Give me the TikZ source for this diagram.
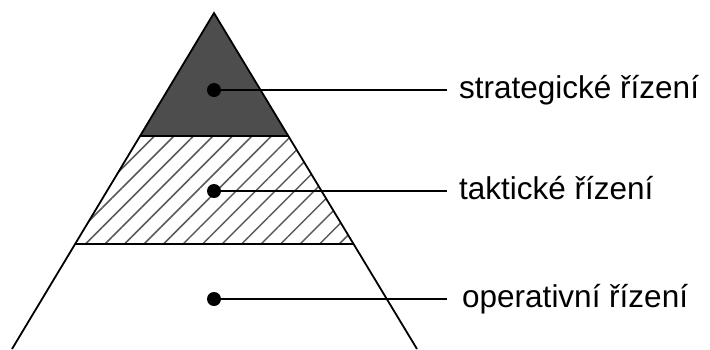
\documentclass[tikz,border=0pt]{standalone}
\usepackage{fontspec}
\setmainfont{Liberation Sans}
\usetikzlibrary{patterns.meta}
\definecolor{darkfill}{HTML}{4D4D4D}
\tikzset{
  edge/.style={line width=1.8pt, black, line join=miter},
  dot/.style={circle, fill=black, inner sep=0pt, minimum size=14pt},
  lead/.style={line width=1.8pt, black},
  lbl/.style={anchor=base west, inner sep=0pt, font=\fontsize{31.5}{36}\selectfont},
  hatch/.style={pattern={Lines[angle=45,distance=13.8pt,line width=1.5pt]}, pattern color=black!65}
}
\begin{document}
\begin{tikzpicture}[x=1pt,y=-1pt]
\useasboundingbox (0,0) rectangle (710,349);
\coordinate (apex) at (214,13);
\coordinate (bl) at (12,349);
\coordinate (br) at (417,349);
\coordinate (t1l) at (140,136);
\coordinate (t1r) at (288,136);
\coordinate (t2l) at (75,244);
\coordinate (t2r) at (353,244);
% top section
\fill[darkfill] (apex) -- (t1r) -- (t1l) -- cycle;
% hatched section
\fill[hatch] (t1l) -- (t1r) -- (t2r) -- (t2l) -- cycle;
\draw[edge] (t1l) -- (t1r);
\draw[edge] (t2l) -- (t2r);
\draw[edge] (bl) -- (apex) -- (br);
% dots and leaders
\node[dot] (d1) at (214,90) {};
\node[dot] (d2) at (214,191) {};
\node[dot] (d3) at (214,299) {};
\coordinate (e1) at (447,90);
\coordinate (e2) at (447,191);
\coordinate (e3) at (447,299);
\draw[lead] (d1.center) -- (e1);
\draw[lead] (d2.center) -- (e2);
\draw[lead] (d3.center) -- (e3);
\node[lbl] (l1) at (459,98) {strategické řízení};
\node[lbl] (l2) at (459,199) {taktické řízení};
\node[lbl] (l3) at (462,307) {operativní řízení};
\end{tikzpicture}
\end{document}
